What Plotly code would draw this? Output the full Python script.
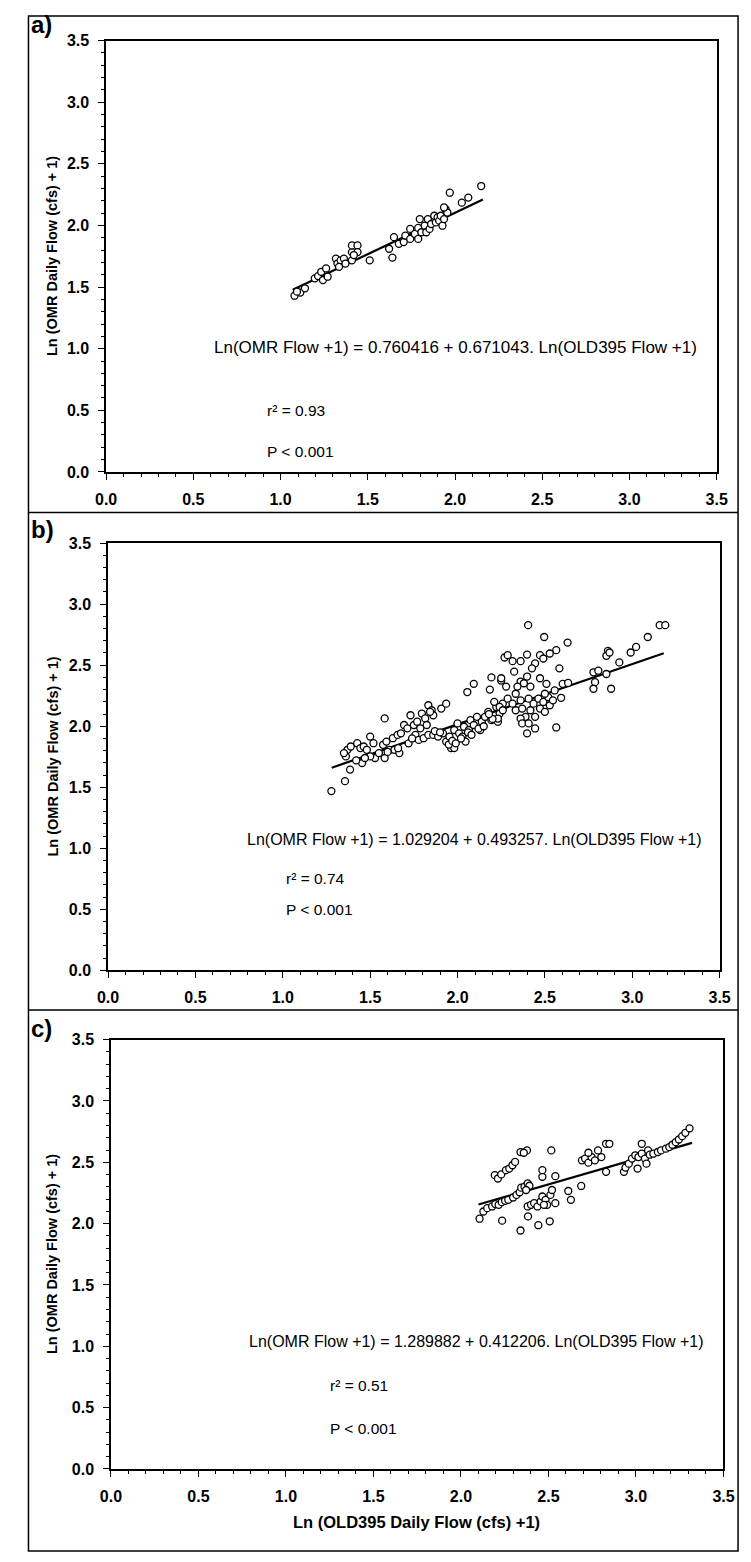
import plotly.graph_objects as go

# ---------------- data ----------------
a_x = [1.08, 1.113, 1.14, 1.094, 1.196, 1.215, 1.243, 1.233, 1.261, 1.27,
       1.317, 1.326, 1.344, 1.363, 1.335, 1.372, 1.409, 1.409, 1.409, 1.441,
       1.441, 1.42, 1.511, 1.641, 1.622, 1.65, 1.678, 1.706, 1.715, 1.743,
       1.743, 1.77, 1.789, 1.789, 1.798, 1.807, 1.826, 1.835, 1.844, 1.854,
       1.863, 1.881, 1.89, 1.9, 1.909, 1.918, 1.928, 1.937, 1.946, 1.956,
       1.937, 1.97, 2.039, 2.076, 2.15]
a_y = [1.43, 1.455, 1.49, 1.463, 1.571, 1.589, 1.557, 1.624, 1.651, 1.584,
       1.731, 1.691, 1.717, 1.731, 1.664, 1.691, 1.717, 1.784, 1.838, 1.838,
       1.784, 1.76, 1.717, 1.739, 1.811, 1.905, 1.851, 1.865, 1.918, 1.891,
       1.972, 1.931, 1.891, 1.98, 2.052, 1.945, 1.998, 1.945, 2.052, 1.972,
       2.012, 2.079, 2.025, 2.065, 2.039, 2.079, 1.998, 2.052, 2.132, 2.105,
       2.146, 2.266, 2.185, 2.226, 2.32]

b_x = [1.278, 1.356, 1.385, 1.361, 1.37, 1.35, 1.389, 1.426, 1.444, 1.463,
       1.481, 1.5, 1.454, 1.519, 1.528, 1.5, 1.574, 1.583, 1.593, 1.611,
       1.63, 1.639, 1.667, 1.657, 1.676, 1.583, 1.694, 1.713, 1.731, 1.75,
       1.759, 1.769, 1.787, 1.796, 1.815, 1.824, 1.833, 1.852, 1.861, 1.843,
       1.778, 1.806, 1.833, 1.861, 1.889, 1.917, 1.935, 1.954, 1.963, 1.981,
       1.981, 2.0, 2.009, 2.028, 2.037, 2.046, 2.065, 2.074, 2.093, 2.111,
       2.13, 2.139, 2.157, 2.176, 2.194, 2.222, 2.241, 2.231, 2.259, 1.907,
       1.935, 2.056, 2.093, 2.185, 2.194, 2.25, 2.269,
       2.404, 2.496, 2.63, 2.565, 2.528, 2.472, 2.398, 2.287, 2.315, 2.361,
       2.444, 2.426, 2.491, 2.324, 2.583, 2.25, 2.278, 2.361, 2.398, 2.417,
       2.472, 2.509, 2.343, 2.38, 2.241, 2.231, 2.259, 2.287, 2.315, 2.333,
       2.361, 2.37, 2.389, 2.407, 2.417, 2.435, 2.444, 2.463, 2.472, 2.491,
       2.5, 2.519, 2.528, 2.546, 2.593, 2.361, 2.37, 2.407, 2.444, 2.398,
       2.565, 2.333, 2.5, 2.556, 2.602, 2.633, 2.778, 2.806, 2.787, 2.778,
       2.852, 2.879, 2.926, 2.861, 2.852, 2.87, 2.991, 3.022, 3.089, 3.157,
       3.189,
       1.95, 1.97, 1.99, 2.02, 2.06, 2.08, 2.12, 2.15, 1.87, 1.9,
       1.72, 1.74, 1.66, 1.55, 1.47, 1.42, 1.6, 2.2, 2.21, 2.18]
b_y = [1.469, 1.55, 1.645, 1.753, 1.807, 1.78, 1.834, 1.861, 1.821, 1.834,
       1.807, 1.915, 1.699, 1.861, 1.74, 1.753, 1.848, 1.74, 1.874, 1.807,
       1.902, 1.807, 1.78, 1.929, 1.942, 2.064, 2.01, 1.983, 2.09, 2.01,
       1.929, 2.037, 1.983, 2.104, 2.064, 2.01, 2.172, 2.131, 2.09, 2.118,
       1.888, 1.902, 1.929, 1.929, 1.915, 1.942, 1.874, 1.915, 1.821, 1.821,
       1.969, 2.023, 1.942, 1.915, 1.996, 1.874, 1.969, 2.05, 2.01, 2.077,
       1.969, 2.037, 2.077, 2.118, 2.05, 2.158, 2.104, 2.037, 2.185, 2.145,
       2.185, 2.28, 2.347, 2.3, 2.4, 2.374, 2.563,
       2.828, 2.731, 2.685, 2.623, 2.596, 2.582, 2.587, 2.582, 2.533, 2.533,
       2.515, 2.474, 2.555, 2.447, 2.474, 2.393, 2.325, 2.366, 2.407, 2.325,
       2.393, 2.347, 2.325, 2.352, 2.158, 2.063, 2.131, 2.226, 2.185, 2.131,
       2.212, 2.145, 2.077, 2.226, 2.131, 2.185, 2.077, 2.226, 2.145, 2.199,
       2.118, 2.239, 2.172, 2.212, 2.233, 2.063, 2.023, 2.023, 1.982, 1.942,
       1.99, 2.266, 2.266, 2.293, 2.347, 2.355, 2.442, 2.455, 2.361, 2.307,
       2.428, 2.307, 2.523, 2.617, 2.577, 2.604, 2.604, 2.65, 2.731, 2.828,
       2.828,
       1.85, 1.88, 1.86, 1.9, 1.95, 1.93, 1.98, 2.0, 1.96, 1.95,
       1.86, 1.9, 1.82, 1.78, 1.74, 1.72, 1.79, 2.06, 2.2, 2.1]

c_x = [2.106, 2.128, 2.15, 2.178, 2.196, 2.215, 2.233, 2.252, 2.27, 2.298,
       2.317, 2.335, 2.344, 2.363, 2.381, 2.391, 2.372, 2.193, 2.211, 2.23,
       2.257, 2.276, 2.294, 2.309, 2.34, 2.377, 2.359, 2.516, 2.235, 2.383,
       2.34, 2.442, 2.507, 2.381, 2.4, 2.418, 2.437, 2.455, 2.465, 2.483,
       2.492, 2.511, 2.52, 2.539, 2.474, 2.465, 2.465, 2.539, 2.613, 2.628,
       2.687, 2.691, 2.709, 2.728, 2.746, 2.728, 2.765, 2.783, 2.802, 2.829,
       2.848, 2.829, 2.931, 2.94, 2.959, 2.977, 2.996, 3.014, 3.033, 3.033,
       3.051, 3.06, 3.009, 3.069, 3.079, 3.099, 3.125, 3.143, 3.171, 3.19,
       3.208, 3.227, 3.245, 3.264, 3.282, 3.306]
c_y = [2.04, 2.099, 2.126, 2.14, 2.159, 2.153, 2.175, 2.186, 2.194, 2.213,
       2.234, 2.256, 2.293, 2.301, 2.328, 2.309, 2.274, 2.395, 2.368, 2.401,
       2.436, 2.449, 2.476, 2.503, 2.583, 2.597, 2.578, 2.597, 2.024, 2.059,
       1.944, 1.987, 2.019, 2.14, 2.153, 2.167, 2.14, 2.18, 2.221, 2.194,
       2.153, 2.234, 2.274, 2.167, 2.153, 2.382, 2.436, 2.387, 2.266, 2.194,
       2.307, 2.516, 2.53, 2.497, 2.543, 2.578, 2.516, 2.597, 2.543, 2.651,
       2.651, 2.422, 2.422, 2.457, 2.489, 2.53, 2.557, 2.543, 2.651, 2.57,
       2.53, 2.489, 2.449, 2.597, 2.562, 2.57, 2.584, 2.597, 2.611, 2.624,
       2.643, 2.664, 2.686, 2.713, 2.74, 2.777]

# regression: intercept, slope, x-range
reg_a = (0.760416, 0.671043, 1.07, 2.16)
reg_b = (1.029204, 0.493257, 1.28, 3.18)
reg_c = (1.289882, 0.412206, 2.10, 3.32)

eq_texts = ["Ln(OMR Flow +1) = 0.760416 + 0.671043. Ln(OLD395 Flow +1)",
            "Ln(OMR Flow +1) = 1.029204 + 0.493257. Ln(OLD395 Flow +1)",
            "Ln(OMR Flow +1) = 1.289882 + 0.412206. Ln(OLD395 Flow +1)"]
r2_texts = ["r² = 0.93", "r² = 0.74", "r² = 0.51"]
p_texts = ["P < 0.001", "P < 0.001", "P < 0.001"]
panel_labels = ["a)", "b)", "c)"]
tick_vals = [0.0, 0.5, 1.0, 1.5, 2.0, 2.5, 3.0, 3.5]
tick_text = ["0.0", "0.5", "1.0", "1.5", "2.0", "2.5", "3.0", "3.5"]
y_title = "Ln (OMR Daily Flow (cfs) + 1)"
x_title = "Ln (OLD395 Daily Flow (cfs) +1)"

# ---------------- layout helpers ----------------
W, H = 751, 1562
def fx(p): return p / W
def fy(p): return 1 - p / H

FONT = "Liberation Sans, Arial, sans-serif"
# pixel boxes of each plot area: (left, right, top, bottom)
boxes = [(98, 727, 33, 469), (100, 730, 541, 973), (103, 734, 1043, 1477)]
# text positions (eq center x, eq y, r2/P left x, r2 y, P y, eq font size)
txtpos = [(458, 343, 262, 407, 448, 17), (477, 841, 281, 880, 911, 16),
          (479, 1348, 327, 1393, 1436, 16)]
label_y = [17, 527, 1032]

fig = go.Figure()
datasets = [(a_x, a_y, reg_a), (b_x, b_y, reg_b), (c_x, c_y, reg_c)]
annotations = []
for i, (xs, ys, reg) in enumerate(datasets):
    n = "" if i == 0 else str(i + 1)
    xa, ya = "x" + n, "y" + n
    b0, b1, x0, x1 = reg
    fig.add_trace(go.Scatter(x=[x0, x1], y=[b0 + b1 * x0, b0 + b1 * x1], mode="lines",
                             line=dict(color="black", width=2.2), xaxis=xa, yaxis=ya,
                             showlegend=False, hoverinfo="skip"))
    fig.add_trace(go.Scatter(x=xs, y=ys, mode="markers", xaxis=xa, yaxis=ya, showlegend=False,
                             marker=dict(symbol="circle", size=7, color="white",
                                         line=dict(color="black", width=1.3))))
    l, r, t, btm = boxes[i]
    common = dict(range=[0, 3.5], showline=True, linecolor="black", linewidth=1.5, mirror=True,
                  ticks="outside", ticklen=6, tickwidth=1.2, tickcolor="black",
                  tickvals=tick_vals, ticktext=tick_text, showgrid=False, zeroline=False,
                  tickfont=dict(family=FONT, size=16, color="black", weight="bold"),
                  minor=dict(dtick=0.1, ticks="outside", ticklen=3, tickcolor="black", tickwidth=1))
    fig.layout["xaxis" + n] = dict(common, domain=[fx(l), fx(r)], anchor=ya, ticklabelstandoff=6)
    fig.layout["yaxis" + n] = dict(common, domain=[fy(btm), fy(t)], anchor=xa, ticklabelstandoff=6)
    ex, ey, lx, ry, pyy, efs = txtpos[i]
    tf = dict(family=FONT, size=15.5, color="black")
    annotations += [
        dict(x=fx(ex), y=fy(ey), xref="paper", yref="paper", text=eq_texts[i], showarrow=False,
             font=dict(family=FONT, size=efs, color="black"), xanchor="center", yanchor="middle"),
        dict(x=fx(lx), y=fy(ry), xref="paper", yref="paper", text=r2_texts[i], showarrow=False,
             font=tf, xanchor="left", yanchor="middle"),
        dict(x=fx(lx), y=fy(pyy), xref="paper", yref="paper", text=p_texts[i], showarrow=False,
             font=tf, xanchor="left", yanchor="middle"),
        dict(x=fx(19), y=fy(label_y[i]), xref="paper", yref="paper", text="<b>" + panel_labels[i] + "</b>",
             showarrow=False, font=dict(family=FONT, size=24, color="black"),
             xanchor="left", yanchor="middle"),
        dict(x=fx(43), y=fy((t + btm) / 2), xref="paper", yref="paper", text="<b>" + y_title + "</b>",
             showarrow=False, textangle=-90, font=dict(family=FONT, size=14.5, color="black"),
             xanchor="center", yanchor="middle"),
    ]

annotations.append(dict(x=fx(418), y=fy(1531), xref="paper", yref="paper", text="<b>" + x_title + "</b>",
                        showarrow=False, font=dict(family=FONT, size=16.5, color="black"),
                        xanchor="center", yanchor="middle"))

shapes = [
    dict(type="rect", xref="paper", yref="paper", x0=fx(18), x1=fx(749), y0=fy(1560), y1=fy(8),
         line=dict(color="black", width=1.5)),
    dict(type="line", xref="paper", yref="paper", x0=fx(18), x1=fx(749), y0=fy(510), y1=fy(510),
         line=dict(color="black", width=1.5)),
    dict(type="line", xref="paper", yref="paper", x0=fx(18), x1=fx(749), y0=fy(1013), y1=fy(1013),
         line=dict(color="black", width=1.5)),
]

fig.update_layout(width=W, height=H, margin=dict(l=0, r=0, t=0, b=0),
                  paper_bgcolor="white", plot_bgcolor="white",
                  annotations=annotations, shapes=shapes,
                  font=dict(family=FONT, color="black"))
fig.write_html("out.html", config={"displayModeBar": False})
